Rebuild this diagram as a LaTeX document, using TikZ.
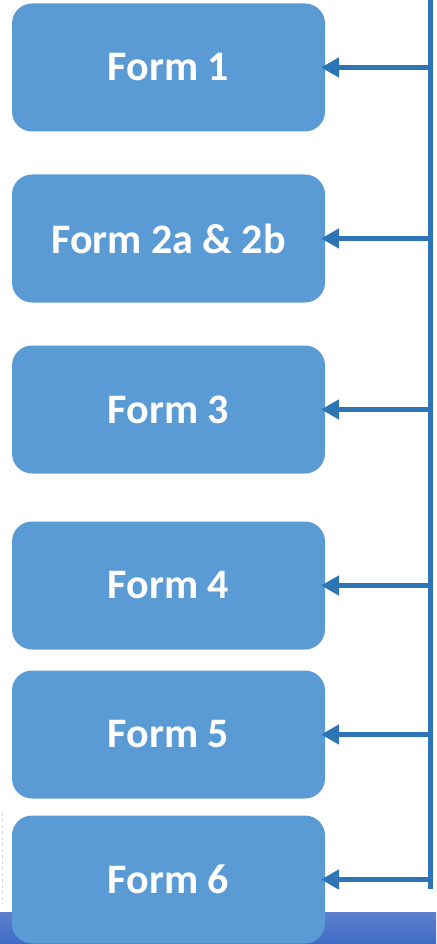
\documentclass[tikz,border=0pt]{standalone}
\usepackage{fontspec}
\setmainfont{Carlito}
\usepackage{xcolor}
\usetikzlibrary{arrows.meta,positioning}
\definecolor{formblue}{HTML}{5B9BD5}
\definecolor{linkblue}{HTML}{2E75B6}
\definecolor{bartop}{HTML}{5C80CD}
\definecolor{barbot}{HTML}{3F6BC4}

\begin{document}
\begin{tikzpicture}[x=1pt, y=-1pt, >={Triangle[length=18pt,width=19pt]}, shorten >=-4pt, line width=5pt, node distance=43pt]
\useasboundingbox (0,0) rectangle (436,944);
% bar at the bottom of the slide
\shade[top color=bartop, bottom color=barbot, draw=none] (0,912) rectangle (436,944);
\draw[line width=1pt, gray!30, dashed] (2,813) -- (2,900);
\tikzstyle{every node}=[font=\fontsize{42}{50}\selectfont\bfseries, text=white, outer sep=0pt]
\tikzstyle{form}=[fill=formblue, rounded corners=20pt, minimum width=313pt, minimum height=128pt, inner sep=0pt]
\node[form] (f1) at (168.5,67.5) {Form 1};
\node[form] (f2) [below=of f1] {Form 2a \& 2b};
\node[form] (f3) [below=of f2] {Form 3};
\node[form] (f4) [below=48pt of f3] {Form 4};
\node[form] (f5) [below=21pt of f4] {Form 5};
\node[form] (f6) [below=17pt of f5] {Form 6};
\coordinate (top) at (430,0);
\coordinate (bot) at (430,885);
\draw[linkblue] (top) -- (bot);
\path[linkblue]
(f1.east -| top) edge[->] (f1.east)
(f2.east -| top) edge[->] (f2.east)
(f3.east -| top) edge[->] (f3.east)
(f4.east -| top) edge[->] (f4.east)
(f5.east -| top) edge[->] (f5.east)
(f6.east -| top) edge[->] (f6.east);
\end{tikzpicture}
\end{document}
